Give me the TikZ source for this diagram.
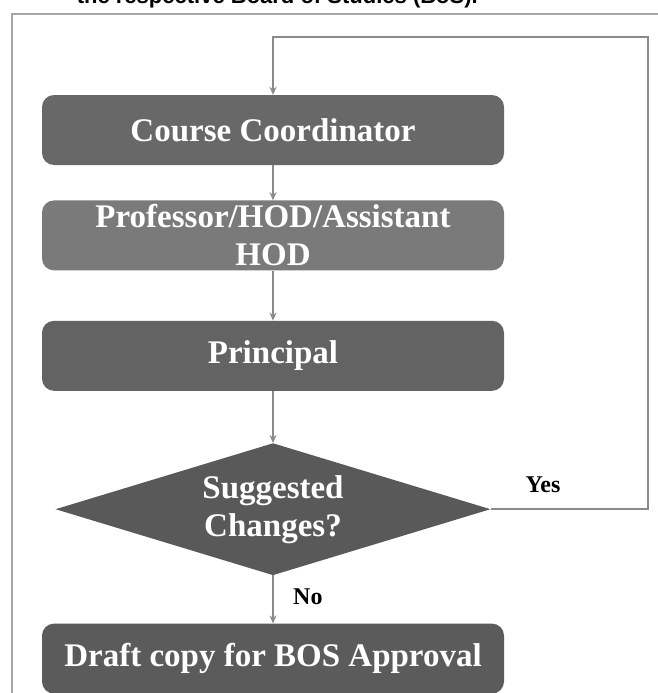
\documentclass[tikz,border=0pt]{standalone}
\usepackage{fontspec}
\setmainfont{Liberation Serif}
\newfontfamily\capfont{Liberation Sans}
\usetikzlibrary{positioning,shapes.geometric,arrows.meta}

\definecolor{framegray}{HTML}{A6A6A6}
\definecolor{linegray}{HTML}{8A8A8A}
\definecolor{coordfill}{HTML}{686868}
\definecolor{proffill}{HTML}{7A7A7A}
\definecolor{princfill}{HTML}{636363}
\definecolor{askfill}{HTML}{595959}
\definecolor{draftfill}{HTML}{5B5B5B}

\begin{document}
\begin{tikzpicture}[x=1pt,y=-1pt,
    stepbox/.style={rounded corners=12pt, minimum width=462pt, minimum height=70pt,
      text=white, align=center, inner sep=1pt,
      font=\bfseries\fontsize{33}{38}\selectfont},
    askbox/.style={diamond, aspect=3.3, inner sep=0pt, minimum width=435pt,
      minimum height=132pt, fill=askfill, text=white, align=center,
      font=\bfseries\fontsize{33}{38}\selectfont},
    link/.style={draw=linegray, line width=1.8pt, -{Stealth[length=8pt,width=7pt]}},
    answer/.style={font=\bfseries\fontsize{24}{24}\selectfont, text=black},
  ]
  \useasboundingbox (0,0) rectangle (658,693);

  % Zeile oben, angeschnitten
  \begin{scope}
    \clip (0,0) rectangle (658,693);
    \node[anchor=base east, inner sep=0pt, font=\capfont\bfseries\fontsize{22}{22}\selectfont]
      (cap) at (478,4) {the respective Board of Studies (BoS).};
  \end{scope}

  % Rahmen
  \draw[framegray, line width=2.5pt] (12,700) -- (12,14) -- (665,14);

  % Ablauf
  \node[stepbox, fill=coordfill] (coord) at (273,130) {Course Coordinator};
  \node[stepbox, fill=proffill, below=35pt of coord] (prof) {Professor/HOD/Assistant\\HOD};
  \node[stepbox, fill=princfill, below=50pt of prof] (princ) {Principal};
  \node[askbox, below=52pt of princ] (ask) {Suggested\\Changes?};
  \node[stepbox, fill=draftfill, below=48pt of ask] (draft) {Draft copy for BOS Approval};

  \draw[link] (coord) -- (prof);
  \draw[link] (prof) -- (princ);
  \draw[link] (princ) -- (ask);
  \draw[link] (ask) -- node[answer, right=16pt, pos=0.45] (no) {No} (draft);

  % Rueckfuehrung bei Aenderungen
  \coordinate (loopR) at (648,37);
  \draw[link] (ask.east) -| (loopR) -| (coord.north);
  \node[answer] (yes) at (543,485) {Yes};
\end{tikzpicture}
\end{document}
